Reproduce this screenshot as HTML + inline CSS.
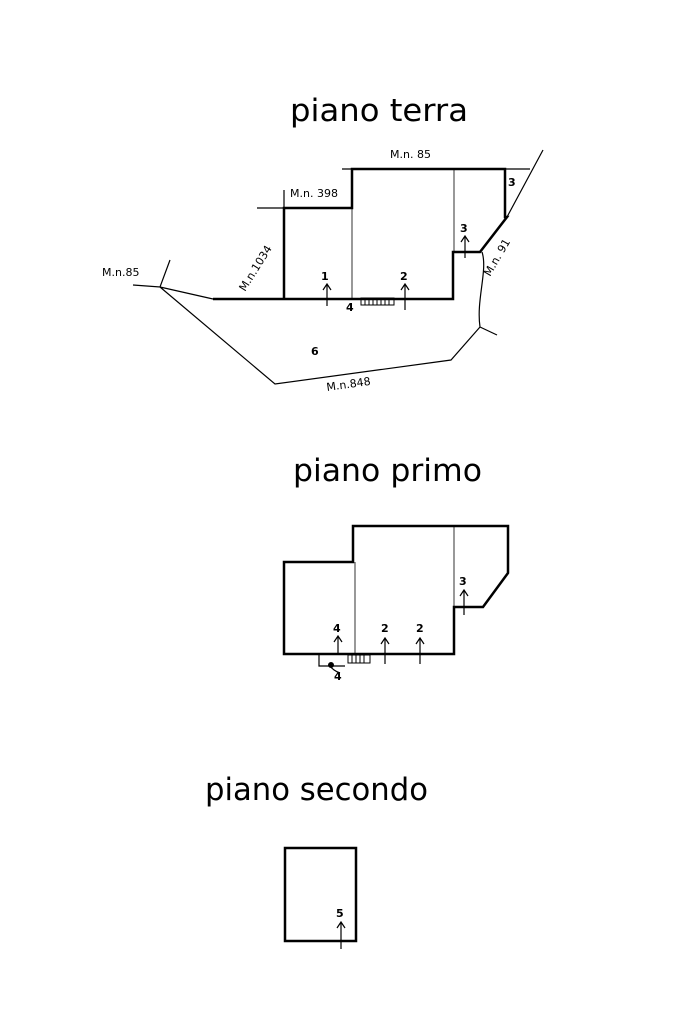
<!DOCTYPE html>
<html><head><meta charset="utf-8"><style>html,body{margin:0;padding:0;background:#fff}svg{display:block}</style></head>
<body>
<svg width="683" height="1024" viewBox="0 0 683 1024" xmlns="http://www.w3.org/2000/svg" font-family="'DejaVu Sans','Liberation Sans',sans-serif" fill="none" stroke="#000">
<g fill="#000" stroke="none">
<text x="290" y="121" font-size="31" textLength="178" lengthAdjust="spacingAndGlyphs">piano terra</text>
<text x="293" y="481" font-size="31" textLength="189" lengthAdjust="spacingAndGlyphs">piano primo</text>
<text x="205" y="800" font-size="31" textLength="223" lengthAdjust="spacingAndGlyphs">piano secondo</text>
<g font-size="11">
<text x="390" y="158">M.n. 85</text>
<text x="290" y="197">M.n. 398</text>
<text x="508" y="186" font-weight="bold">3</text>
<text x="460" y="232" font-weight="bold">3</text>
<text x="102" y="276">M.n.85</text>
<text x="321" y="280" font-weight="bold">1</text>
<text x="400" y="280" font-weight="bold">2</text>
<text x="346" y="311" font-weight="bold">4</text>
<text x="311" y="355" font-weight="bold">6</text>
<text transform="translate(327,391) rotate(-8)">M.n.848</text>
<text transform="translate(245,292) rotate(-58)">M.n.1034</text>
<text transform="translate(490,277) rotate(-60)">M.n. 91</text>
<text x="333" y="632" font-weight="bold">4</text>
<text x="381" y="632" font-weight="bold">2</text>
<text x="416" y="632" font-weight="bold">2</text>
<text x="459" y="585" font-weight="bold">3</text>
<text x="334" y="680" font-weight="bold">4</text>
<text x="336" y="917" font-weight="bold">5</text>
</g>
</g>
<!-- piano terra -->
<path d="M213,299 L453,299 L453,252 L480,252 L507,217 L505,217 L505,169 L352,169 L352,208 L284,208 L284,299" stroke-width="2.5"/>
<g stroke-width="1.2">
<path d="M342,169 L352,169 M505,169 L530,169 M507,217 L543,150 M257,208 L284,208 M284,208 L284,190"/>
<path d="M352,208 L352,299 M454,169 L454,252" stroke-width="0.8"/>
<path d="M213,299 L160,287 L275,384 L451,360 L480,327 M480,327 L497,335 M480,327 C476,300 488,270 482,252 M133,285 L160,287 L170,260"/>
<path d="M327,306 L327,284 M323,290 L327,284 L331,290 M405,310 L405,284 M401,290 L405,284 L409,290 M465,258 L465,236 M461,242 L465,236 L469,242"/>
</g>
<rect x="361" y="298" width="33" height="7" fill="none" stroke-width="1"/>
<path d="M365,298v7M369,298v7M373,298v7M377,298v7M381,298v7M385,298v7M389,298v7" stroke-width="1"/>
<!-- piano primo -->
<path d="M353,526 L508,526 L508,573 L483,607 L454,607 L454,654 L284,654 L284,562 L353,562 Z" stroke-width="2.5"/>
<path d="M355,562 L355,654 M454,526 L454,607" stroke-width="0.8"/>
<g stroke-width="1.2">
<path d="M338,655 L338,636 M334,642 L338,636 L342,642 M385,664 L385,638 M381,644 L385,638 L389,644 M420,664 L420,638 M416,644 L420,638 L424,644 M464,615 L464,590 M460,596 L464,590 L468,596"/>
<path d="M319,654 L319,666 L345,666 M330,666 C333,670 337,672 340,673"/>
</g>
<circle cx="331" cy="665" r="2.5" fill="#000"/>
<rect x="348" y="655" width="22" height="8" stroke-width="1"/>
<path d="M352,655v8M356,655v8M360,655v8M364,655v8" stroke-width="1"/>
<!-- piano secondo -->
<rect x="285" y="848" width="71" height="93" stroke-width="2.5"/>
<path d="M341,949 L341,922 M337,928 L341,922 L345,928" stroke-width="1.2"/>
</svg>
</body></html>
